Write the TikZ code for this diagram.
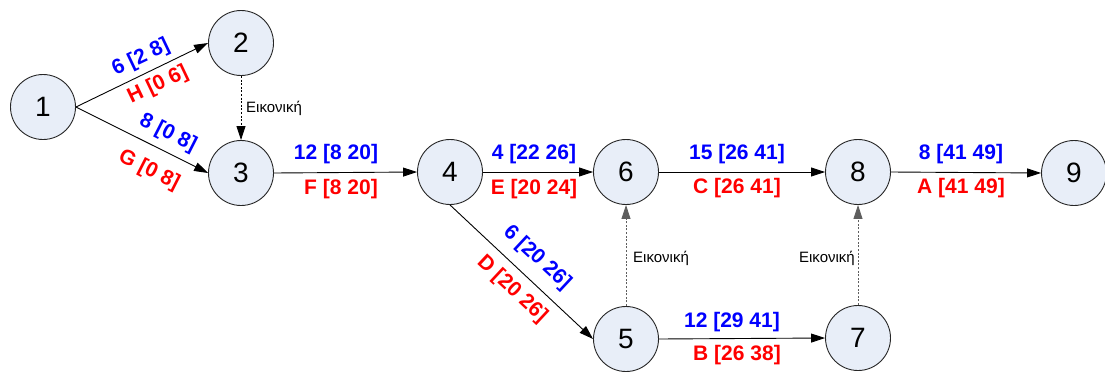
\documentclass[tikz,border=0pt]{standalone}
\usepackage{fontspec}
\setmainfont{Liberation Sans}
\usetikzlibrary{arrows.meta}
\definecolor{nodefill}{RGB}{232,238,248}
\definecolor{edgegray}{RGB}{40,40,40}
\begin{document}
\begin{tikzpicture}[x=1pt,y=-1pt,
  ev/.style={circle,draw=black!85,fill=nodefill,line width=0.9pt,minimum size=65pt,inner sep=0pt,font=\fontsize{28}{30}\selectfont},
  act/.style={draw=black,line width=0.9pt,-{Triangle[length=14pt,width=9pt]}},
  dummy/.style={draw=edgegray!75,line width=0.9pt,dash pattern=on 2pt off 1.6pt,-{Triangle[length=14pt,width=9pt]}},
  darkdummy/.style={dummy,draw=black},
  bl/.style={text=blue,font=\fontsize{21}{23}\selectfont\bfseries,inner sep=0pt},
  rd/.style={text=red,font=\fontsize{21}{23}\selectfont\bfseries,inner sep=0pt},
  dl/.style={font=\fontsize{15}{17}\selectfont,inner sep=0pt}]
\useasboundingbox (0,0) rectangle (1105,372);
% events
\node[ev] (n1) at (43,107) {1};
\node[ev] (n2) at (241,43) {2};
\node[ev] (n3) at (241,173) {3};
\node[ev] (n4) at (450,172) {4};
\node[ev] (n6) at (626,172) {6};
\node[ev] (n8) at (858,172) {8};
\node[ev] (n9) at (1074,173) {9};
\node[ev] (n5) at (626,339) {5};
\node[ev] (n7) at (858,338) {7};
% activities
\draw[act] (n1.east) -- (n2.west);
\draw[act] (n1.east) -- (n3.west);
\draw[act] (n3.east) -- (n4.west);
\draw[act] (n4.east) -- (n6.west);
\draw[act] (n6.east) -- (n8.west);
\draw[act] (n8.east) -- (n9.west);
\draw[act] (n4.south) -- (n5.west);
\draw[act] (n5.east) -- (n7.west);
% dummy activities
\draw[darkdummy] (n2.south) -- (n3.north);
\draw[dummy] (n5.north) -- (n6.south);
\draw[dummy] (n7.north) -- (n8.south);
\node[dl,anchor=west] (d23) at (246,108) {Εικονική};
\node[dl,anchor=west] (d56) at (633,258) {Εικονική};
\node[dl,anchor=east] (d78) at (855,258) {Εικονική};
% labels
\node[bl,rotate=25.5] (b12) at (141,58) {6 [2 8]};
\node[rd,rotate=25.5] (r12) at (158,85) {H [0 6]};
\node[bl,rotate=-27] (b13) at (168,133) {8 [0 8]};
\node[rd,rotate=-27] (r13) at (149,170) {G [0 8]};
\node[bl] (b34) at (336,154) {12 [8 20]};
\node[rd] (r34) at (341,189) {F [8 20]};
\node[bl] (b46) at (534,154) {4 [22 26]};
\node[rd] (r46) at (534,189) {E [20 24]};
\node[bl] (b68) at (737,154) {15 [26 41]};
\node[rd] (r68) at (737,188) {C [26 41]};
\node[bl] (b89) at (961,154) {8 [41 49]};
\node[rd] (r89) at (961,188) {A [41 49]};
\node[bl,rotate=-43] (b45) at (537,258) {6 [20 26]};
\node[rd,rotate=-43] (r45) at (512,289) {D [20 26]};
\node[bl] (b57) at (732,322) {12 [29 41]};
\node[rd] (r57) at (737,355) {B [26 38]};
\end{tikzpicture}
\end{document}
